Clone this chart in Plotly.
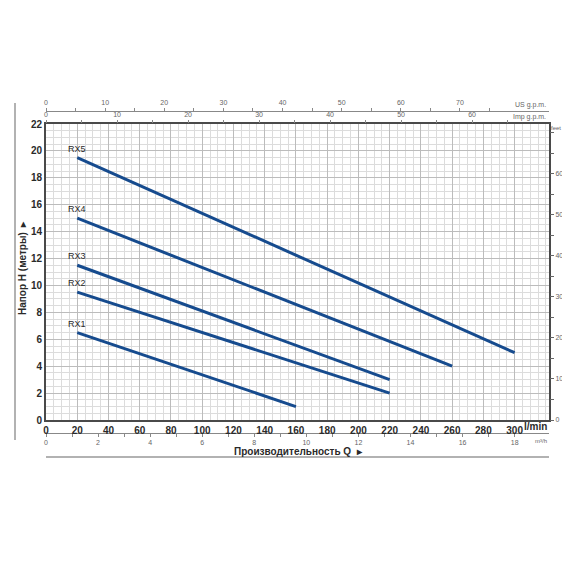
import plotly.graph_objects as go

# Data: flow in l/min, head in metres
series_names = ["RX1", "RX2", "RX3", "RX4", "RX5"]
flow_start = [20, 20, 20, 20, 20]
flow_end = [160, 220, 220, 260, 300]
head_start = [6.5, 9.5, 11.5, 15.0, 19.5]
head_end = [1.0, 2.0, 3.0, 4.0, 5.0]

x_max = 322
y_max = 22
lmin_ticks = list(range(0, 301, 20))
m3h_ticks = list(range(0, 19))
gpm_ticks = list(range(0, 76, 5))
imp_ticks = list(range(0, 66, 5))
feet_ticks = list(range(0, 71, 5))
feet_labelled = list(range(0, 61, 10))

LINE = "#164b8e"
FONT = "Liberation Sans Narrow, Arial Narrow, Liberation Sans, Arial"
DARK = "#2a2a2a"
GREY = "#666666"

# page body has an 8px margin; figure drawn inside the 570 window
W = 562
H = 554
OFF = 8
PL, PR, PT, PB = 46 - OFF, 549 - OFF, 100 - OFF, 470 - OFF  # paper box in figure px
PW, PH = PR - PL, PB - PT

def px(xa):
    return (xa - OFF - PL) / PW

def py(ya):
    return (PB - (ya - OFF)) / PH

fig = go.Figure()
for name, x0, x1, y0, y1 in zip(series_names, flow_start, flow_end, head_start, head_end):
    fig.add_trace(go.Scatter(x=[x0, x1], y=[y0, y1], mode="lines", name=name,
                             line=dict(color=LINE, width=3), showlegend=False,
                             hoverinfo="skip"))
# invisible traces to activate extra axes
for xa, ya in [("x2", "y"), ("x3", "y"), ("x4", "y"), ("x", "y2")]:
    fig.add_trace(go.Scatter(x=[0], y=[0], xaxis=xa, yaxis=ya, mode="markers",
                             marker=dict(opacity=0, color="white"), showlegend=False,
                             hoverinfo="skip"))

dom_bottom = py(420)
dom_top = py(124)

def lab(vals, every, allowed=None):
    return [str(v) if v % every == 0 and (allowed is None or v in allowed) else ""
            for v in vals]

def small_font():
    return dict(family=FONT, size=7, color=GREY)

fig.update_layout(
    width=W, height=H,
    margin=dict(l=PL, r=W - PR, t=PT, b=H - PB, autoexpand=False),
    paper_bgcolor="white", plot_bgcolor="white",
    font=dict(family=FONT, color=DARK),
    xaxis=dict(range=[0, x_max], tickvals=lmin_ticks, ticks="", automargin=False,
               color=DARK,
               tickfont=dict(family=FONT, size=10, color=DARK, weight="bold"),
               showgrid=True, gridcolor="#bcbcbc", gridwidth=1,
               minor=dict(dtick=5, tick0=0, showgrid=True, gridcolor="#dcdcdc", gridwidth=1),
               showline=True, linecolor="#4a4a4a", linewidth=2, mirror=True,
               zeroline=False, domain=[0, 1]),
    yaxis=dict(range=[0, y_max], dtick=2, tick0=0, ticks="", automargin=False,
               color=DARK,
               tickfont=dict(family=FONT, size=10, color=DARK, weight="bold"),
               showgrid=True, gridcolor="#bcbcbc", gridwidth=1,
               minor=dict(dtick=0.5, tick0=0, showgrid=True, gridcolor="#dcdcdc", gridwidth=1),
               showline=True, linecolor="#4a4a4a", linewidth=2, mirror=True,
               zeroline=False, domain=[dom_bottom, dom_top]),
    xaxis2=dict(overlaying="x", anchor="free", position=py(433), side="bottom",
                range=[0, x_max * 0.06], tickvals=m3h_ticks, ticktext=lab(m3h_ticks, 2),
                ticks="outside", ticklen=3, tickcolor="#888", tickwidth=1, automargin=False,
                color=GREY, tickfont=small_font(), showline=True, linecolor="#888", linewidth=1,
                showgrid=False, zeroline=False),
    xaxis3=dict(overlaying="x", anchor="free", position=py(110.7), side="top",
                range=[0, x_max / 3.78541], tickvals=gpm_ticks, ticktext=lab(gpm_ticks, 10),
                ticks="outside", ticklen=3, tickcolor="#888", tickwidth=1, automargin=False,
                color=GREY, tickfont=small_font(), showline=True, linecolor="#888", linewidth=1,
                showgrid=False, zeroline=False),
    xaxis4=dict(overlaying="x", anchor="y", side="top",
                range=[0, x_max / 4.54609], tickvals=imp_ticks, ticktext=lab(imp_ticks, 10),
                ticks="outside", ticklen=3, tickcolor="#888", tickwidth=1, automargin=False,
                color=GREY, tickfont=small_font(), showline=False,
                showgrid=False, zeroline=False),
    yaxis2=dict(overlaying="y", anchor="x", side="right",
                range=[0, y_max * 3.28084], tickvals=feet_ticks,
                ticktext=lab(feet_ticks, 10, feet_labelled),
                ticks="outside", ticklen=4, tickcolor="#666", tickwidth=1, automargin=False,
                color=GREY, tickfont=small_font(), showline=False, showgrid=False, zeroline=False),
)

annotations = []
for name, x0, y0 in zip(series_names, flow_start, head_start):
    annotations.append(dict(x=x0, y=y0, xref="x", yref="y", text=name, showarrow=False,
                            xanchor="center", yanchor="bottom", yshift=2,
                            font=dict(family=FONT, size=9, color=DARK)))

annotations += [
    dict(x=1.0, y=py(426), xref="paper", yref="paper", text="l/min",
         showarrow=False, xanchor="right", yanchor="middle",
         font=dict(family=FONT, size=10, color=DARK, weight="bold")),
    dict(x=1.0, y=py(441), xref="paper", yref="paper", text="m³/h",
         showarrow=False, xanchor="right", yanchor="middle",
         font=dict(family=FONT, size=6, color=GREY)),
    dict(x=0.998, y=py(105), xref="paper", yref="paper", text="US g.p.m.",
         showarrow=False, xanchor="right", yanchor="middle",
         font=dict(family=FONT, size=7, color=GREY)),
    dict(x=0.998, y=py(117), xref="paper", yref="paper", text="Imp g.p.m.",
         showarrow=False, xanchor="right", yanchor="middle",
         font=dict(family=FONT, size=7, color=GREY)),
    dict(x=px(550), y=py(128), xref="paper", yref="paper", text="feet",
         showarrow=False, xanchor="left", yanchor="middle", borderpad=0,
         font=dict(family=FONT, size=6, color=GREY)),
    dict(x=px(22), y=py(268), xref="paper", yref="paper",
         text="Напор H (метры)  ▸", textangle=-90, showarrow=False,
         xanchor="center", yanchor="middle",
         font=dict(family=FONT, size=10, color=DARK, weight="bold")),
    dict(x=px(298), y=py(451), xref="paper", yref="paper",
         text="Производительность Q  ▸", showarrow=False,
         xanchor="center", yanchor="middle",
         font=dict(family=FONT, size=10, color=DARK, weight="bold")),
]
fig.update_layout(annotations=annotations)

fig.update_layout(shapes=[
    dict(type="line", xref="paper", yref="paper",
         x0=px(15), x1=px(15), y0=py(440), y1=py(103),
         line=dict(color="#999999", width=1.5)),
    dict(type="line", xref="paper", yref="paper",
         x0=0, x1=1, y0=py(457), y1=py(457),
         line=dict(color="#999999", width=1.5)),
])

fig.write_html("out.html")
